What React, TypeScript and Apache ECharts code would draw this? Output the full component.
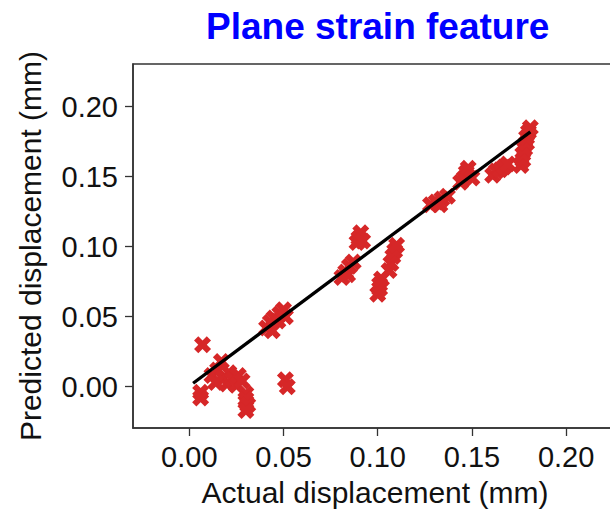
import React, { useEffect, useRef } from "react";
import * as echarts from "echarts";

const titleText = "Plane strain feature";
const xAxisName = "Actual displacement (mm)";
const yAxisName = "Predicted displacement (mm)";
const tickValues = [0, 0.05, 0.1, 0.15, 0.2];

// [actual, predicted] per cluster
const actualValues = [
  0.007, 0.006, 0.006,
  0.012, 0.015, 0.017, 0.018, 0.020, 0.021, 0.023, 0.025, 0.026, 0.028, 0.014,
  0.030, 0.030, 0.031, 0.030,
  0.051, 0.052,
  0.041, 0.043, 0.045, 0.047, 0.048, 0.050, 0.051, 0.044,
  0.081, 0.083, 0.085, 0.087, 0.084,
  0.089, 0.090, 0.091, 0.092,
  0.100, 0.101, 0.101, 0.102,
  0.106, 0.107, 0.108, 0.109, 0.110,
  0.128, 0.131, 0.134, 0.137, 0.133,
  0.144, 0.146, 0.147, 0.148, 0.150,
  0.161, 0.163, 0.165, 0.167, 0.169,
  0.176, 0.177, 0.177, 0.178, 0.179, 0.179, 0.180, 0.181,
];
const predictedValues = [
  0.030, -0.004, -0.008,
  0.008, 0.012, 0.018, 0.006, 0.002, 0.010, 0.005, 0.001, 0.008, 0.004, 0.003,
  -0.005, -0.009, -0.013, -0.017,
  0.005, 0.000,
  0.042, 0.046, 0.049, 0.047, 0.052, 0.055, 0.050, 0.040,
  0.078, 0.082, 0.086, 0.089, 0.080,
  0.103, 0.106, 0.110, 0.104,
  0.066, 0.070, 0.073, 0.077,
  0.083, 0.088, 0.093, 0.097, 0.101,
  0.130, 0.132, 0.134, 0.136, 0.130,
  0.146, 0.149, 0.153, 0.156, 0.149,
  0.151, 0.154, 0.155, 0.157, 0.159,
  0.158, 0.162, 0.166, 0.170, 0.174, 0.178, 0.182, 0.185,
];
const fitLineX = [0.002, 0.181];
const fitLineY = [0.0025, 0.182];

const X_MARK = "path://M1 0L2 1L3 0L4 1L3 2L4 3L3 4L2 3L1 4L0 3L1 2L0 1Z";
const FONT = "'Liberation Sans', Arial, Helvetica, sans-serif";

export default function App() {
  const ref = useRef<HTMLDivElement>(null);
  useEffect(() => {
    document.body.style.margin = "0";
    if (!ref.current) return;
    const chart = echarts.init(ref.current, undefined, { renderer: "svg" });
    const points = actualValues.map((x, i) => [x, predictedValues[i]]);
    const line = fitLineX.map((x, i) => [x, fitLineY[i]]);
    const axisCommon = {
      type: "value" as const,
      nameLocation: "middle" as const,
      nameTextStyle: { fontSize: 30, color: "#111", fontFamily: FONT },
      axisLine: { show: true, onZero: false, lineStyle: { color: "#333", width: 1.5 } },
      axisTick: { show: true, inside: false, length: 8, lineStyle: { color: "#333", width: 1.3 }, customValues: tickValues },
      axisLabel: {
        fontSize: 29,
        color: "#111",
        fontFamily: FONT,
        customValues: tickValues,
        formatter: (v: number) => v.toFixed(2),
      },
      splitLine: { show: false },
    };
    chart.setOption({
      animation: false,
      backgroundColor: "#ffffff",
      title: {
        text: titleText,
        left: 201,
        top: 3,
        textStyle: { fontSize: 37, fontWeight: "bold", color: "#0000ff", fontFamily: FONT },
      },
      grid: {
        left: 133,
        top: 64,
        width: 484,
        height: 364,
        show: true,
        borderColor: "#333",
        borderWidth: 1.5,
        containLabel: false,
        outerBoundsMode: "none",
      },
      xAxis: {
        ...axisCommon,
        min: -0.0299,
        max: 0.227,
        name: xAxisName,
        nameGap: 49,
        axisLabel: { ...axisCommon.axisLabel, margin: 14 },
      },
      yAxis: {
        ...axisCommon,
        min: -0.0295,
        max: 0.2305,
        name: yAxisName,
        nameGap: 88,
        axisLabel: { ...axisCommon.axisLabel, margin: 15 },
      },
      series: [
        {
          type: "scatter",
          data: points,
          symbol: X_MARK,
          symbolSize: 17,
          itemStyle: { color: "#d62728", opacity: 1 },
          z: 2,
        },
        {
          type: "line",
          data: line,
          showSymbol: false,
          symbol: "none",
          lineStyle: { color: "#000", width: 3.3 },
          z: 3,
        },
      ],
    });
    return () => chart.dispose();
  }, []);
  return <div ref={ref} style={{ width: 610, height: 512 }} />;
}
